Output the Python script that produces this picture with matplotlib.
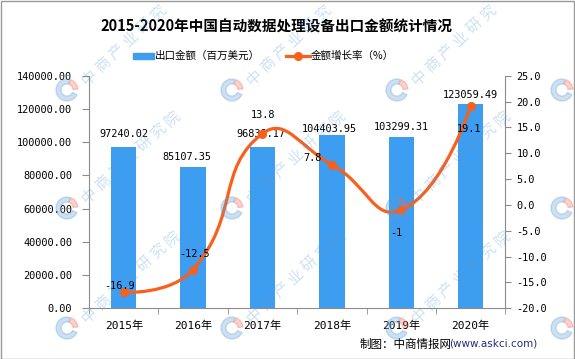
import numpy as np
import matplotlib
matplotlib.use("Agg")
from matplotlib import pyplot as plt
from matplotlib.path import Path
from matplotlib.patches import PathPatch, Rectangle, Wedge
from matplotlib.lines import Line2D
from matplotlib.transforms import IdentityTransform

plt.rcParams['font.family'] = ['DejaVu Sans Mono', 'Noto Sans CJK SC']
plt.rcParams['axes.unicode_minus'] = False

years = ['2015年', '2016年', '2017年', '2018年', '2019年', '2020年']
amount = [97240.02, 85107.35, 96838.17, 104403.95, 103299.31, 123059.49]
growth = [-16.9, -12.5, 13.8, 7.8, -1, 19.1]

bar_color = '#3d9df0'
line_color = '#f8601c'
grey = '#8c8c8c'

W, H = 575, 359
fig = plt.figure(figsize=(W / 100, H / 100), dpi=100)
ax = fig.add_axes([89 / W, 1 - 308.3 / H, (505.3 - 89) / W, (308.3 - 75.7) / H])
x = np.arange(len(years))

ax.bar(x, amount, width=0.365, color=bar_color, zorder=2)
ax.set_xlim(-0.5, 5.5)
ax.set_ylim(0, 140000)
ax.set_yticks(np.arange(0, 140001, 20000))
ax.set_yticklabels(['%.2f' % v for v in np.arange(0, 140001, 20000)])
ax.set_xticks(x)
ax.set_xticklabels(years)
ax.set_xticks(np.arange(-0.5, 6, 1), minor=True)
ax.tick_params(axis='x', which='major', length=0, pad=9, labelsize=8)
ax.tick_params(axis='x', which='minor', length=4, color=grey)
ax.tick_params(axis='y', length=5, pad=7, color=grey, labelsize=7.4)
for s in ['top', 'right']:
    ax.spines[s].set_visible(False)
for s in ['left', 'bottom']:
    ax.spines[s].set_color(grey)

# bar value labels (offsets in pixels)
bar_off = [(0, 13), (-6, 10), (-2, 13), (-2, 6), (0, 10), (0, 9)]
for i, v in enumerate(amount):
    ax.annotate('%.2f' % v, (i, v), xytext=bar_off[i], textcoords='offset pixels',
                ha='center', va='center', fontsize=7.4, zorder=5)

ax2 = ax.twinx()
ax2.set_ylim(-20, 25)
ax2.set_yticks(np.arange(-20, 26, 5))
ax2.set_yticklabels(['%.1f' % v for v in np.arange(-20, 26, 5)])
ax2.tick_params(axis='y', length=4, pad=4, color=grey, labelsize=7.4)
for s in ['top', 'left', 'bottom']:
    ax2.spines[s].set_visible(False)
ax2.spines['right'].set_color(grey)

# smooth line through the points (echarts-style bezier)
sx = (505.3 - 89) / 6
sy = (308.3 - 75.7) / 45
P = np.column_stack([x * sx, np.array(growth) * sy])
n = len(P)
cp_in = [P[i] for i in range(n)]
cp_out = [P[i] for i in range(n)]
for i in range(1, n - 1):
    v = P[i + 1] - P[i - 1]
    d0 = np.hypot(*(P[i] - P[i - 1]))
    d1 = np.hypot(*(P[i + 1] - P[i]))
    cp_in[i] = P[i] - v * 0.5 * d0 / (d0 + d1)
    cp_out[i] = P[i] + v * 0.5 * d1 / (d0 + d1)
verts = [P[0]]
codes = [Path.MOVETO]
for i in range(n - 1):
    verts += [cp_out[i], cp_in[i + 1], P[i + 1]]
    codes += [Path.CURVE4] * 3
verts = np.array(verts) / [sx, sy]
ax2.add_patch(PathPatch(Path(verts, codes), fill=False, edgecolor=line_color,
                        lw=2.3, zorder=3, capstyle='round'))
ax2.plot(x, growth, 'o', ms=5.5, color=line_color, zorder=4)

line_off = [(-4, 6), (1, 16), (1, 19), (-19, 7), (-5, -23), (-2, -23)]
for i, v in enumerate(growth):
    ax2.annotate('%g' % v, (i, v), xytext=line_off[i], textcoords='offset pixels',
                 ha='center', va='center', fontsize=7.4, zorder=5)

# title
fig.text(276.7 / W, 1 - 27 / H, '2015-2020年中国自动数据处理设备出口金额统计情况',
         ha='center', va='center', fontsize=10.5, fontweight='heavy',
         family=['Noto Sans CJK SC'])

# legend
fig.patches.append(Rectangle((133 / W, 1 - 59 / H), 21 / W, 5.7 / H,
                             transform=fig.transFigure, color=bar_color))
fig.text(155 / W, 1 - 56 / H, '出口金额（百万美元）', ha='left', va='center',
         fontsize=7.6, family=['Noto Sans CJK SC'])
fig.lines.append(Line2D([286 / W, 310 / W], [1 - 56 / H, 1 - 56 / H], lw=2.3,
                        color=line_color, transform=fig.transFigure))
fig.lines.append(Line2D([298 / W], [1 - 56 / H], marker='o', ms=5.5,
                        color=line_color, transform=fig.transFigure))
fig.text(311 / W, 1 - 56 / H, '金额增长率（%）', ha='left', va='center',
         fontsize=7.6, family=['Noto Sans CJK SC'])

# source
fig.text(451.7 / W, 1 - 344 / H, '制图：中商情报网', ha='right', va='center',
         fontsize=8.3, family=['Noto Sans CJK SC'])
fig.text(537 / W, 1 - 344 / H, '(www.askci.com)', ha='right', va='center',
         fontsize=7.5, color='#1f2f80', family=['DejaVu Sans'])

# watermark
wm = '中商产业研究院'
ang = np.deg2rad(43)
for lx in [-98, 67, 232, 397, 562]:
    for ly in [-28, 90, 208, 328]:
        fig.patches.append(Wedge((lx, H - ly), 11, 75, 335, width=5,
                                 transform=IdentityTransform(), color='#5b9bd5',
                                 alpha=0.3, zorder=10))
        fig.patches.append(Wedge((lx, H - ly), 11, 5, 70, width=5,
                                 transform=IdentityTransform(), color='#ee6a5a',
                                 alpha=0.3, zorder=10))
        for k, ch in enumerate(wm):
            px = lx + 22 + k * 19 * np.cos(ang)
            py = ly - 12 - k * 19 * np.sin(ang)
            if not (9 < px < W - 9 and 9 < py < H - 9):
                continue
            fig.text(px / W, 1 - py / H, ch, rotation=43, ha='center', va='center',
                     fontsize=11, color='#5b9bd5', alpha=0.3, zorder=10,
                     family=['Noto Sans CJK SC'])

fig.patches.append(Rectangle((0.5 / W, 0.5 / H), 1 - 1.5 / W, 1 - 1.5 / H,
                             transform=fig.transFigure, fill=False,
                             edgecolor='#999999', lw=1))

plt.savefig('out.png', dpi=100)
